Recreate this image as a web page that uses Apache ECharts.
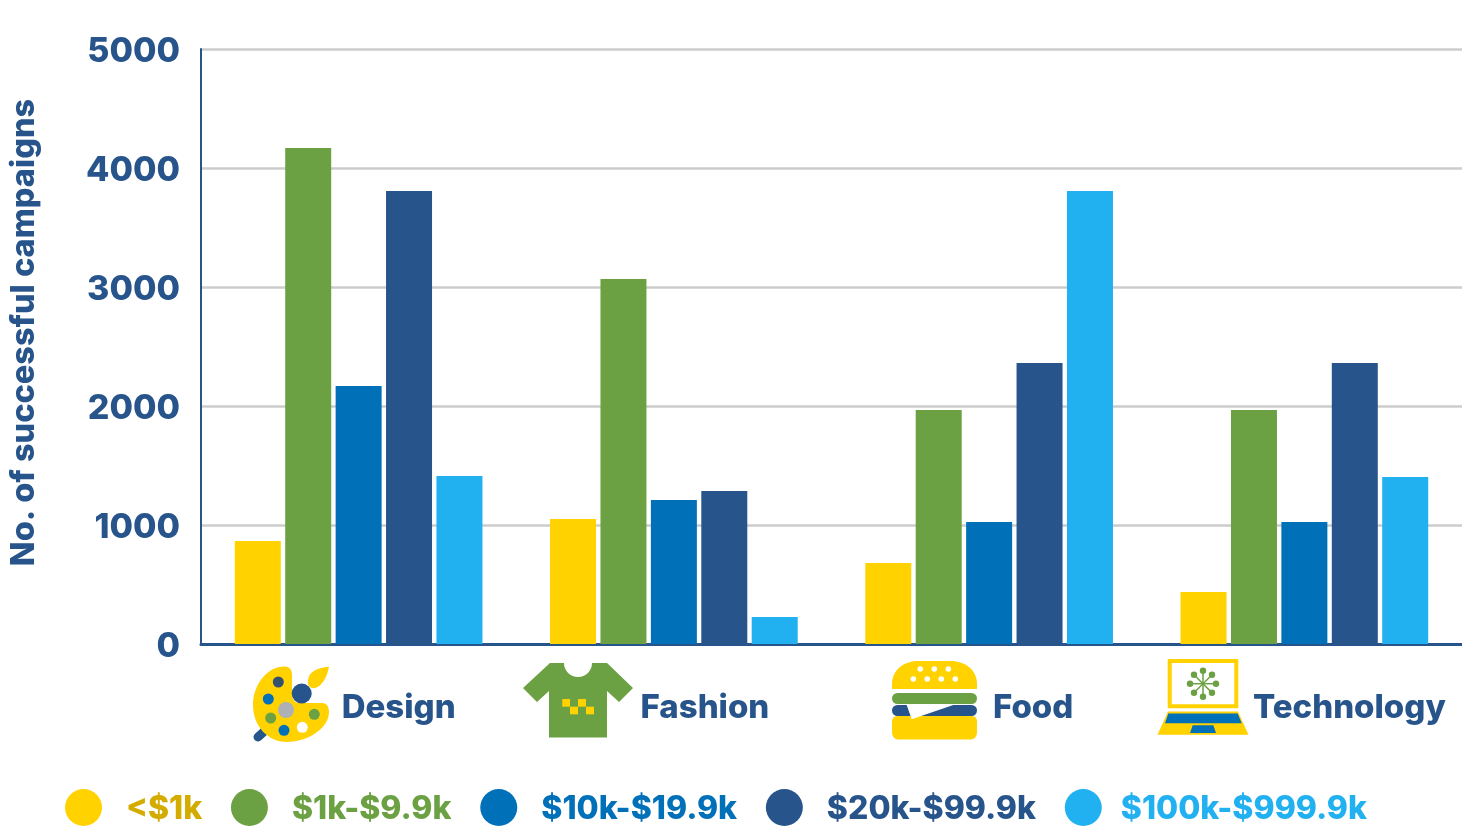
<!DOCTYPE html>
<html>
<head>
<meta charset="utf-8">
<title>Successful campaigns</title>
<script src="https://cdn.jsdelivr.net/npm/echarts@6/dist/echarts.min.js"></script>
<style>
html, body { margin: 0; padding: 0; background: #fff; }
#chart { width: 1462px; height: 829px; }
</style>
</head>
<body>
<div id="chart"></div>
<script>
var categories = ["Design", "Fashion", "Food", "Technology"];
var seriesNames = ["<$1k", "$1k-$9.9k", "$10k-$19.9k", "$20k-$99.9k", "$100k-$999.9k"];
var under1k = [866, 1050, 680, 437];
var from1k = [4168, 3067, 1966, 1966];
var from10k = [2168, 1210, 1025, 1025];
var from20k = [3807, 1286, 2361, 2361];
var from100k = [1412, 227, 3807, 1403];
var seriesValues = [under1k, from1k, from10k, from20k, from100k];

var YELLOW = "#FFD200", GREEN = "#6BA143", BLUE = "#0070B8", NAVY = "#27548A", SKY = "#21B0F0";
var barColors = [YELLOW, GREEN, BLUE, NAVY, SKY];
var legendTextColors = ["#D4AC00", GREEN, BLUE, NAVY, SKY];
// the reference spaces its legend unevenly
var legendLeftPad = [19, 19, 19, 19, 14];
var legendRightGap = [1, 7, 11, 19, 1];
var FONT = "Inter";

// category labels sit right of the icons, so each one is pushed over by a left padding
var labelPadding = { Design: 80, Fashion: 62, Food: 88, Technology: 90 };
var labelRich = {};
categories.forEach(function (name) {
    labelRich[name] = {
        color: NAVY, fontFamily: FONT, fontWeight: 800, fontSize: 33,
        padding: [0, 0, 0, labelPadding[name]]
    };
});

// the graphic component has no plain path type, so each outline gets registered
var pathCount = 0;
function path(d, fill) {
    var name = "iconPath" + pathCount++;
    echarts.graphic.registerShape(name, echarts.graphic.extendPath(d, {}));
    return { type: name, style: { fill: fill } };
}
function dot(x, y, r, fill) {
    return { type: "circle", shape: { cx: x, cy: y, r: r }, style: { fill: fill } };
}
function box(x, y, w, h, fill, r) {
    return { type: "rect", shape: { x: x, y: y, width: w, height: h, r: r || 0 }, style: { fill: fill } };
}

// category icons
var icons = [
    // palette
    { type: "line", shape: { x1: 258, y1: 737, x2: 268, y2: 728 }, style: { stroke: NAVY, lineWidth: 9, lineCap: "round" } },
    path("M285 666.5C290 667 292 670 292 675L292 693C292 700 295 703 300 703L322 703C327 703 329 707 329 712C329 728 308 742 287 742C268 742 253 726 253 705C253 684 268 666 285 666.5Z", YELLOW),
    dot(301.7, 693.5, 10, NAVY),
    path("M329 666.5C318 668 309 671 308 680C307 686 311 689 315 688C322 686 327 678 329 666.5Z", YELLOW),
    dot(278.3, 682, 5.5, "#35506F"),
    dot(268.3, 699, 5.5, BLUE),
    dot(286, 710, 8, "#ADB0B5"),
    dot(270.7, 718, 5.5, GREEN),
    dot(314.3, 714.3, 5.5, GREEN),
    dot(284, 730.3, 5.5, BLUE),
    dot(302.3, 727.3, 5.5, "#fff"),
    // t-shirt
    path("M550 663L564 663A14 14 0 0 0 592 663L607 663L633 688L619 702L607 691L607 737.5L549 737.5L549 691L537 702L523 688Z", GREEN),
    box(562.3, 699, 7.7, 7.7, YELLOW),
    box(578, 699, 8, 7.7, YELLOW),
    box(570, 706.7, 8, 7.6, YELLOW),
    box(586, 706.7, 8, 7.6, YELLOW),
    // burger
    path("M892 689L892 684C892 670 904 661 918 661L951 661C965 661 977 670 977 684L977 689Z", YELLOW),
    box(892, 693, 85, 11, GREEN, 5.5),
    box(892, 705, 85, 11, NAVY, 5.5),
    path("M892 722C892 718 894 716 898 716L971 716C975 716 977 718 977 722L977 732C977 737 974 739.5 970 739.5L899 739.5C895 739.5 892 737 892 732Z", YELLOW),
    path("M906.7 705L953.3 705L911.7 719.3Z", "#fff"),
    // laptop
    box(1167.7, 659, 70.6, 49.3, YELLOW, 1),
    box(1171.7, 663, 62.6, 41.3, "#fff"),
    path("M1168 711.5L1238 711.5L1248.5 734.7L1157.5 734.7Z", YELLOW),
    path("M1168.3 713.5L1237.7 713.5L1241.7 723.3L1165 723.3Z", BLUE),
    path("M1192.7 725.3L1213.3 725.3L1216 733L1190 733Z", BLUE)
];
[[920.3, 669], [934.3, 669], [948.3, 669], [913.3, 679], [927.3, 679], [941.3, 679], [955.3, 679]].forEach(function (p) {
    icons.push(dot(p[0], p[1], 2.8, "#fff"));
});
[[0, -13], [9, -9], [13, 0], [9, 9], [0, 13], [-9, 9], [-13, 0], [-9, -9]].forEach(function (p) {
    icons.push({ type: "line", shape: { x1: 1203, y1: 683.7, x2: 1203 + p[0], y2: 683.7 + p[1] }, style: { stroke: GREEN, lineWidth: 1.5 } });
    icons.push(dot(1203 + p[0], 683.7 + p[1], 3.2, GREEN));
});

var myChart = echarts.init(document.getElementById("chart"), null, { renderer: "canvas" });
myChart.setOption({
    animation: false,
    backgroundColor: "#fff",
    grid: { left: 201, right: 0, top: 49, height: 595, outerBoundsMode: "none" },
    legend: {
        left: 65,
        top: 789,
        itemWidth: 37,
        itemHeight: 37,
        itemGap: 26,
        icon: "circle",
        padding: 0,
        selectedMode: false,
        formatter: function (name) { return "{t|" + name + "}{s| }"; },
        data: seriesNames.map(function (name, i) {
            return {
                name: name,
                textStyle: {
                    rich: {
                        t: {
                            color: legendTextColors[i], fontFamily: FONT, fontWeight: 800, fontSize: 32,
                            padding: [4, 0, 0, legendLeftPad[i]]
                        },
                        s: { width: legendRightGap[i], fontSize: 10 }
                    }
                }
            };
        })
    },
    xAxis: {
        type: "category",
        data: categories,
        axisTick: { show: false },
        axisLine: { lineStyle: { color: NAVY, width: 3 } },
        axisLabel: {
            margin: 48,
            interval: 0,
            formatter: function (value) { return "{" + value + "|" + value + "}"; },
            rich: labelRich
        }
    },
    yAxis: {
        type: "value",
        min: 0,
        max: 5000,
        interval: 1000,
        name: "No. of successful campaigns",
        nameLocation: "middle",
        nameRotate: 90,
        nameGap: 160,
        nameTextStyle: { color: NAVY, fontFamily: FONT, fontWeight: 800, fontSize: 32.5, padding: [0, 0, 0, 28] },
        axisLine: { show: true, lineStyle: { color: NAVY, width: 2 } },
        axisTick: { show: false },
        axisLabel: {
            margin: 21,
            formatter: function (value) { return "{v|" + value + "}"; },
            rich: { v: { color: NAVY, fontFamily: FONT, fontWeight: 800, fontSize: 34, padding: [6, 0, 0, 0] } }
        },
        splitLine: { lineStyle: { color: "#CCCCCC", width: 2.5 } }
    },
    series: seriesNames.map(function (name, i) {
        return {
            name: name,
            type: "bar",
            data: seriesValues[i],
            barWidth: 46,
            barGap: "9.6%",
            itemStyle: { color: barColors[i] }
        };
    }),
    graphic: icons
});
</script>
</body>
</html>
